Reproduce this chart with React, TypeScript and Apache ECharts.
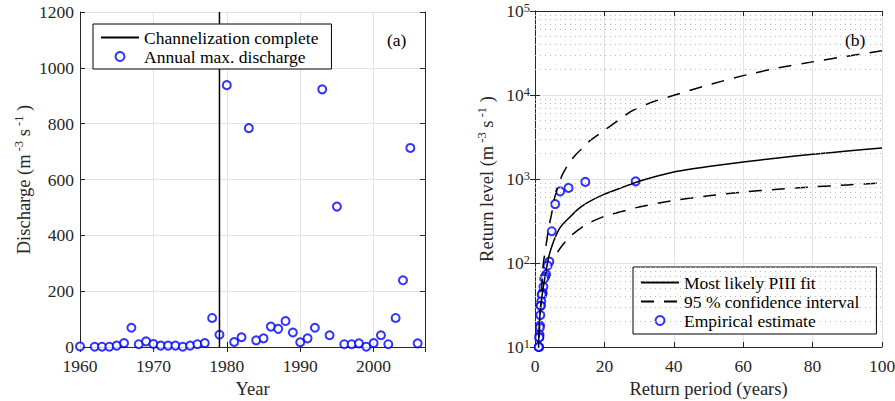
import React, { useEffect, useRef } from 'react';
import * as echarts from 'echarts';

// ---------- (a) annual maximum discharge ----------
const YEARS = [1960, 1962, 1963, 1964, 1965, 1966, 1967, 1968, 1969, 1970, 1971, 1972, 1973, 1974, 1975, 1976, 1977, 1978, 1979,
  1980, 1981, 1982, 1983, 1984, 1985, 1986, 1987, 1988, 1989, 1990, 1991, 1992, 1993, 1994, 1995, 1996, 1997, 1998, 1999,
  2000, 2001, 2002, 2003, 2004, 2005, 2006];
const DISCHARGE = [2, 1, 1, 1, 5, 14, 69, 10, 20, 11, 5, 5, 5, 1, 5, 10, 14, 104, 44,
  938, 18, 35, 784, 24, 31, 73, 65, 93, 52, 17, 31, 69, 923, 42, 503, 10, 10, 13, 1,
  14, 42, 10, 104, 239, 713, 13];
const CHANNEL_X = [1979, 1979];
const CHANNEL_Y = [0, 1200];

// ---------- (b) return levels ----------
const EMP_T = [29, 14.5, 9.67, 7.25, 5.8, 4.83, 4.14, 3.63, 3.22, 2.9, 2.64, 2.42, 2.23, 2.07, 1.93, 1.81, 1.71, 1.61,
  1.53, 1.45, 1.38, 1.32, 1.26, 1.21, 1.16, 1.12, 1.07, 1.04];
const EMP_Q = [938, 923, 784, 713, 503, 239, 104, 93, 73, 69, 65, 52, 44, 42, 42, 35, 31, 31, 24, 18, 17, 14, 13, 13, 10, 10, 10, 1];

const FIT_T = [1, 1.1, 1.2, 1.5, 2, 2.5, 3, 4, 5, 6, 7, 8, 10, 12, 15, 20, 25, 30, 40, 50, 60, 70, 80, 90, 100];
const FIT_Q = [9, 14, 17, 26, 40, 55, 73, 120, 165, 210, 255, 290, 350, 424, 520, 660, 790, 940, 1211, 1410, 1593, 1780, 1968, 2150, 2340];

const UPPER_T = [1.2, 1.5, 2, 2.4, 3, 3.4, 4, 4.8, 5.5, 6.7, 7.2, 8, 10, 12, 14, 16, 20, 24, 28, 34, 40, 50, 60, 70, 80, 90, 100];
const UPPER_Q = [13, 25, 55, 98, 145, 186, 270, 387, 560, 841, 964, 1150, 1600, 2000, 2400, 2900, 3800, 5000, 6500, 8300, 9910, 13200, 17000, 21000, 24800, 29000, 33700];

const LOWER_T = [6.5, 7, 8, 10, 12, 14, 17, 20, 25, 30, 40, 50, 60, 70, 80, 90, 100];
const LOWER_Q = [135, 145, 165, 205, 240, 275, 320, 360, 410, 465, 555, 630, 700, 755, 805, 850, 900];

const MINOR_LEVELS = [20, 30, 40, 50, 60, 70, 80, 90, 200, 300, 400, 500, 600, 700, 800, 900,
  2000, 3000, 4000, 5000, 6000, 7000, 8000, 9000, 20000, 30000, 40000, 50000, 60000, 70000, 80000, 90000];

const zip = (a: number[], b: number[]) => a.map((v, i) => [v, b[i]]);

const FONT = '"Liberation Serif", "Times New Roman", serif';
const AX = '#262626';
const GRID = '#e3e3e3';
const TICK_FS = 17.5;
const NAME_FS = 18.5;
const LEG_FS = 17.5;

export default function App() {
  const ref = useRef<HTMLDivElement>(null);
  useEffect(() => {
    if (!ref.current) return;
    const chart = echarts.init(ref.current, undefined, { renderer: 'svg' });

    const axisLine = { show: true, lineStyle: { color: AX, width: 1 } };
    const axisTick = { show: true, inside: true, length: 5, lineStyle: { color: AX } };
    const label = { color: AX, fontFamily: FONT, fontSize: TICK_FS, formatter: (v: number) => String(v) };
    const splitLine = { show: true, lineStyle: { color: GRID, width: 1 } };
    const mirror = (extra: any) => ({
      axisLine, axisTick, axisLabel: { show: false }, splitLine: { show: false }, ...extra,
    });
    const nameStyle = { color: AX, fontFamily: FONT, fontSize: NAME_FS };
    const richName = {
      n: { fontFamily: FONT, fontSize: NAME_FS, color: AX, lineHeight: 24 },
      s: { fontFamily: FONT, fontSize: 12.5, color: AX, lineHeight: 12, verticalAlign: 'top' },
    };
    const legendBase = {
      orient: 'vertical', itemWidth: 38, itemHeight: 9, itemGap: 0,
      borderColor: '#000', borderWidth: 1, backgroundColor: '#fff', borderRadius: 0,
      textStyle: { fontFamily: FONT, fontSize: LEG_FS, color: '#000', lineHeight: 19 },
      selectedMode: false, align: 'left',
    };
    const lineItem = (name: string) => ({ name, itemStyle: { opacity: 0 } });

    chart.setOption({
      animation: false,
      backgroundColor: '#fff',
      grid: [
        { left: 80, top: 12, width: 345, height: 335, outerBoundsMode: 'none', containLabel: false },
        { left: 535, top: 11, width: 347, height: 336, outerBoundsMode: 'none', containLabel: false },
      ],
      legend: [
        {
          ...legendBase, data: [lineItem('Channelization complete'), 'Annual max. discharge'],
          left: 93, top: 24, padding: [4, 13, 3, 7],
        },
        {
          ...legendBase, data: [lineItem('Most likely PIII fit'), lineItem('95 % confidence interval'), 'Empirical estimate'],
          left: 633, top: 267, padding: [6, 17, 4, 7],
        },
      ],
      xAxis: [
        {
          gridIndex: 0, type: 'value', min: 1960, max: 2007, interval: 10,
          name: 'Year', nameLocation: 'middle', nameGap: 26, nameTextStyle: nameStyle,
          axisLine, axisTick, splitLine,
          axisLabel: { ...label, margin: 10, showMaxLabel: false },
        },
        { gridIndex: 0, type: 'value', position: 'top', min: 1960, max: 2007, interval: 10, ...mirror({}) },
        {
          gridIndex: 1, type: 'value', min: 0, max: 100, interval: 20,
          name: 'Return period (years)', nameLocation: 'middle', nameGap: 26, nameTextStyle: nameStyle,
          axisLine, axisTick, splitLine,
          axisLabel: { ...label, margin: 10 },
        },
        { gridIndex: 1, type: 'value', position: 'top', min: 0, max: 100, interval: 20, ...mirror({}) },
      ],
      yAxis: [
        {
          gridIndex: 0, type: 'value', min: 0, max: 1200, interval: 200,
          name: '{n|Discharge (m}{s| -3}{n| s}{s| -1}{n| )}', nameLocation: 'middle', nameGap: 44,
          nameTextStyle: { ...nameStyle, rich: richName },
          axisLine, axisTick, splitLine,
          axisLabel: { ...label, margin: 6 },
        },
        { gridIndex: 0, type: 'value', position: 'right', min: 0, max: 1200, interval: 200, ...mirror({}) },
        {
          gridIndex: 1, type: 'log', logBase: 10, min: 10, max: 100000,
          name: '{n|Return level (m}{s| -3}{n| s}{s| -1}{n| )}', nameLocation: 'middle', nameGap: 36,
          nameTextStyle: { ...nameStyle, rich: richName },
          axisLine, axisTick, splitLine,
          axisLabel: {
            color: AX, fontFamily: FONT, fontSize: TICK_FS, margin: 5,
            formatter: (v: number) => `{b|10}{e|${Math.round(Math.log10(v))}}`,
            rich: {
              b: { fontFamily: FONT, fontSize: TICK_FS, color: AX, lineHeight: 20 },
              e: { fontFamily: FONT, fontSize: 12.5, color: AX, lineHeight: 12, verticalAlign: 'top' },
            },
          },
        },
        { gridIndex: 1, type: 'log', logBase: 10, position: 'right', min: 10, max: 100000, ...mirror({}) },
      ],
      graphic: [
        { type: 'text', left: 387, top: 31, style: { text: '(a)', font: `17.5px ${FONT}`, fill: '#000' } },
        { type: 'text', left: 845, top: 31, style: { text: '(b)', font: `17.5px ${FONT}`, fill: '#000' } },
      ],
      series: [
        {
          name: 'minor-grid', type: 'line', xAxisIndex: 2, yAxisIndex: 2, data: zip(FIT_T, FIT_Q),
          symbol: 'none', lineStyle: { opacity: 0 }, silent: true, z: 1,
          markLine: {
            silent: true, symbol: ['none', 'none'], label: { show: false },
            lineStyle: { type: [1, 4], color: '#b8b8b8', width: 1 },
            data: MINOR_LEVELS.map((v) => ({ yAxis: v })),
          },
        },
        {
          name: 'Channelization complete', type: 'line', xAxisIndex: 0, yAxisIndex: 0,
          data: zip(CHANNEL_X, CHANNEL_Y), symbol: 'none',
          lineStyle: { color: '#000', width: 1.5 }, itemStyle: { color: '#000' },
        },
        {
          name: 'Annual max. discharge', type: 'scatter', xAxisIndex: 0, yAxisIndex: 0,
          data: zip(YEARS, DISCHARGE), symbol: 'emptyCircle', symbolSize: 8,
          itemStyle: { color: '#0000ff', borderColor: '#0000ff', borderWidth: 1.6 },
        },
        {
          name: 'Most likely PIII fit', type: 'line', xAxisIndex: 2, yAxisIndex: 2,
          data: zip(FIT_T, FIT_Q), symbol: 'none', smooth: 0.2,
          lineStyle: { color: '#000', width: 1.5 }, itemStyle: { color: '#000' },
        },
        {
          name: '95 % confidence interval', type: 'line', xAxisIndex: 2, yAxisIndex: 2,
          data: zip(UPPER_T, UPPER_Q), symbol: 'none', smooth: 0.2,
          lineStyle: { color: '#000', width: 1.5, type: [13, 10] }, itemStyle: { color: '#000' },
        },
        {
          name: '95 % confidence interval', type: 'line', xAxisIndex: 2, yAxisIndex: 2,
          data: zip(LOWER_T, LOWER_Q), symbol: 'none', smooth: 0.2,
          lineStyle: { color: '#000', width: 1.5, type: [13, 10] }, itemStyle: { color: '#000' },
        },
        {
          name: 'Empirical estimate', type: 'scatter', xAxisIndex: 2, yAxisIndex: 2, clip: true,
          data: zip(EMP_T, EMP_Q), symbol: 'emptyCircle', symbolSize: 8,
          itemStyle: { color: '#0000ff', borderColor: '#0000ff', borderWidth: 1.6 },
        },
      ],
    });
    return () => chart.dispose();
  }, []);
  return <div ref={ref} style={{ position: 'fixed', left: 0, top: 0, width: 895, height: 401 }} />;
}
